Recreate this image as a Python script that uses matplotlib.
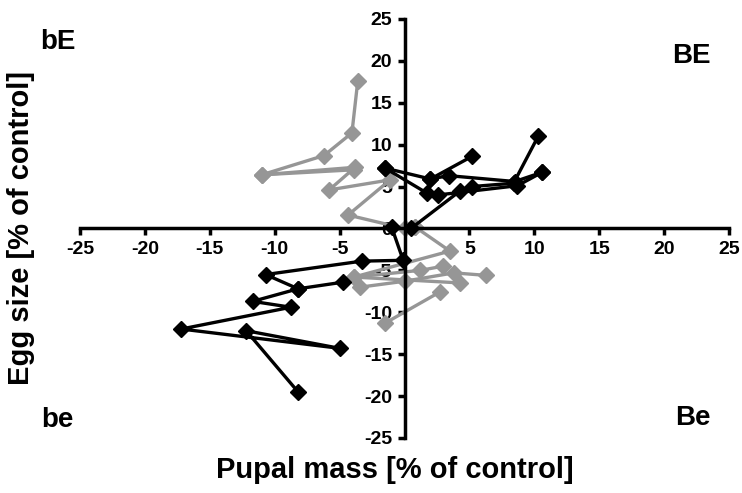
import matplotlib
matplotlib.use("Agg")
import matplotlib.pyplot as plt

plt.rcParams['font.family'] = ['Liberation Sans', 'DejaVu Sans']
plt.rcParams['font.weight'] = 'bold'
plt.rcParams['axes.unicode_minus'] = False

# black trajectories (pupal mass %, egg size %)
black_x = [
    [0.5, 4.3, 5.2, 8.4, 10.3],
    [-1.5, 1.75, 2.6, 8.7, 10.6],
    [-1.5, 2.0, 5.2],
    [2.0, 3.4, 8.5, 10.6],
    [-1.0, -0.1, -3.3, -10.7, -8.2, -4.7],
    [-8.2, -11.7, -8.75, -17.2, -5.0, -12.2, -8.2],
]
black_y = [
    [0.0, 4.5, 5.0, 5.4, 11.0],
    [7.2, 4.2, 4.0, 5.1, 6.7],
    [7.2, 5.9, 8.6],
    [5.9, 6.3, 5.6, 6.7],
    [0.2, -3.8, -3.9, -5.5, -7.2, -6.4],
    [-7.2, -8.7, -9.4, -12.0, -14.3, -12.2, -19.5],
]

# grey trajectories
grey_x = [
    [-3.6, -4.05, -6.2, -11.0, -3.8, -5.8, -1.1, -4.35, 0.0, 0.8],
    [-11.0, -3.9],
    [0.8, 3.5, -3.9, 1.2, 3.0],
    [-3.4, 0.0, 3.8, 6.3],
    [-3.9, 4.3],
    [-1.5, 2.7],
]
grey_y = [
    [17.6, 11.4, 8.7, 6.4, 7.3, 4.6, 5.8, 1.6, 0.0, 0.2],
    [6.4, 7.0],
    [0.2, -2.7, -5.8, -5.0, -4.5],
    [-7.0, -6.3, -5.3, -5.6],
    [-5.8, -6.5],
    [-11.3, -7.6],
]

quad_labels = ['bE', 'BE', 'be', 'Be']
quad_pos = [(-26.7, 22.3), (22.1, 20.6), (-26.7, -22.8), (22.2, -22.6)]

fig = plt.figure(figsize=(7.42, 4.93), dpi=100)
ax = fig.add_axes([0.1078, 0.1116, 0.8747, 0.85])

for xs, ys in zip(grey_x, grey_y):
    ax.plot(xs, ys, color='#969696', lw=2.4, marker='D', ms=8, zorder=2)
for xs, ys in zip(black_x, black_y):
    ax.plot(xs, ys, color='black', lw=2.4, marker='D', ms=8, zorder=3)

ax.set_xlim(-25, 25)
ax.set_ylim(-25, 25)
ax.spines['left'].set_position(('data', 0))
ax.spines['bottom'].set_position(('data', 0))
ax.spines['right'].set_visible(False)
ax.spines['top'].set_visible(False)
for s in ['left', 'bottom']:
    ax.spines[s].set_linewidth(2.5)

ax.set_xticks([-25, -20, -15, -10, -5, 5, 10, 15, 20, 25])
ax.set_yticks(range(-25, 30, 5))
ax.tick_params(axis='both', direction='out', length=5, width=2.5, labelsize=14, pad=4)
for lab in ax.get_xticklabels() + ax.get_yticklabels():
    lab.set_fontweight('bold')

for t, (qx, qy) in zip(quad_labels, quad_pos):
    ax.text(qx, qy, t, fontsize=20, fontweight='bold', ha='center', va='center',
            clip_on=False)

fig.text(0.532, 0.047, 'Pupal mass [% of control]', fontsize=21, fontweight='bold',
         ha='center', va='center')
fig.text(0.028, 0.537, 'Egg size [% of control]', fontsize=21, fontweight='bold',
         ha='center', va='center', rotation=90)

fig.savefig('out.png', dpi=100)
